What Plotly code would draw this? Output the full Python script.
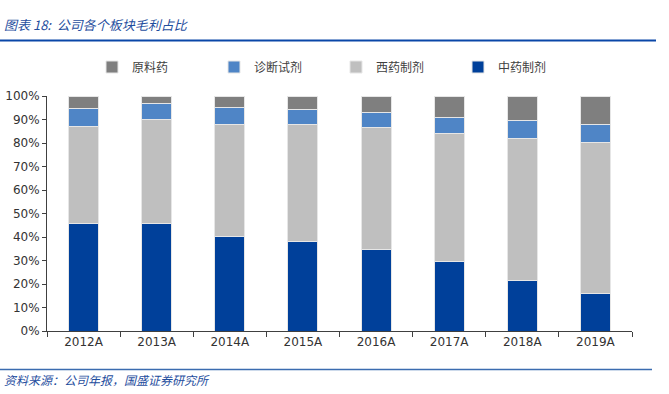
import plotly.graph_objects as go

categories = ["2012A", "2013A", "2014A", "2015A", "2016A", "2017A", "2018A", "2019A"]
tcm = [45.6, 45.6, 40.4, 38.1, 34.5, 29.5, 21.3, 16.0]          # 中药制剂
western = [41.4, 44.4, 47.5, 49.8, 52.1, 54.4, 60.5, 64.1]      # 西药制剂
diagnostic = [7.8, 7.0, 7.3, 6.3, 6.5, 7.1, 7.7, 7.6]           # 诊断试剂
api = [5.2, 3.0, 4.8, 5.8, 6.9, 9.0, 10.5, 12.3]                # 原料药

series = [
    ("中药制剂", tcm, "#00409a"),
    ("西药制剂", western, "#bfbfbf"),
    ("诊断试剂", diagnostic, "#4f85c6"),
    ("原料药", api, "#7f7f7f"),
]

CJK = "Noto Sans CJK SC"
fig = go.Figure()
for name, vals, color in series:
    fig.add_trace(go.Bar(
        x=categories, y=[v / 100 for v in vals], name=name,
        marker=dict(color=color, line=dict(color="#e6e6e6", width=1)),
    ))

L, R, T, B = 47, 37, 96, 63
W, H = 669, 394
pw, ph = W - L - R, H - T - B
def px(x): return (x - L) / pw
def py(y): return (H - B - y) / ph

fig.update_layout(
    width=W, height=H, autosize=False,
    margin=dict(l=L, r=R, t=T, b=B, autoexpand=False),
    barmode="stack", bargap=0.59,
    plot_bgcolor="white", paper_bgcolor="white",
    font=dict(family="DejaVu Sans", size=12, color="#333333"),
    showlegend=True,
    legend=dict(orientation="h", traceorder="reversed", x=px(92), y=py(67),
                xanchor="left", yanchor="middle",
                entrywidth=77, entrywidthmode="pixels", itemwidth=30,
                font=dict(family=CJK, size=12, color="#404040")),
    xaxis=dict(showline=True, linecolor="#404040", linewidth=1, ticks="outside",
               tickson="boundaries", ticklen=5, tickcolor="#404040", automargin=False,
               tickfont=dict(family="DejaVu Sans", size=12, color="#333333")),
    yaxis=dict(range=[0, 1], dtick=0.1, tickformat=".0%", showgrid=False,
               showline=True, linecolor="#404040", linewidth=1, ticks="outside",
               ticklen=4, tickcolor="#404040", zeroline=False, automargin=False,
               tickfont=dict(family="DejaVu Sans", size=12, color="#333333")),
)

fig.add_annotation(text="<i>图表 18:  公司各个板块毛利占比</i>", xref="paper", yref="paper",
                   x=px(2), y=py(25), xanchor="left", yanchor="middle", showarrow=False,
                   font=dict(family=CJK, size=13, color="#1f4e9e"))
fig.add_annotation(text="<i>资料来源：公司年报，国盛证券研究所</i>", xref="paper", yref="paper",
                   x=px(2), y=py(379), xanchor="left", yanchor="middle", showarrow=False,
                   font=dict(family=CJK, size=12, color="#1f4e9e"))
fig.add_shape(type="line", xref="paper", yref="paper", x0=px(0), x1=px(656),
              y0=py(40.5), y1=py(40.5), line=dict(color="#0a47a8", width=2))
fig.add_shape(type="line", xref="paper", yref="paper", x0=px(0), x1=px(652),
              y0=py(369.5), y1=py(369.5), line=dict(color="#3b6cb0", width=1.5))

fig.write_html("out.html", config={"displayModeBar": False},
               post_script="document.body.style.margin='0';")
